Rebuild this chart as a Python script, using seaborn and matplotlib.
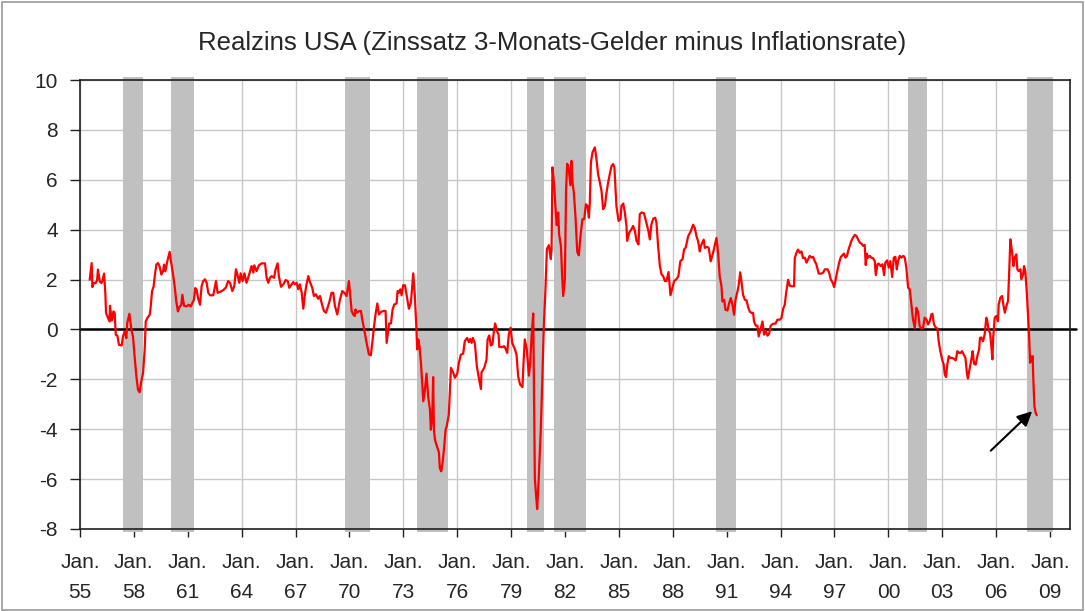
import matplotlib
matplotlib.use("Agg")
import matplotlib.pyplot as plt
from matplotlib.patches import Rectangle
import seaborn as sns
import pandas as pd

# ---------------- data (decimal year, real rate in %) ----------------
years = [
    1955.54, 1955.65, 1955.69, 1955.76, 1955.87, 1955.95, 1956.00, 1956.10, 1956.19, 1956.24,
    1956.34, 1956.41, 1956.45, 1956.56, 1956.65, 1956.67, 1956.76, 1956.82, 1956.86, 1956.93,
    1956.99, 1957.08, 1957.17, 1957.32, 1957.39, 1957.49, 1957.58, 1957.63, 1957.75, 1957.86,
    1957.95, 1958.04, 1958.14, 1958.23, 1958.32, 1958.41, 1958.51, 1958.60, 1958.66, 1958.75,
    1958.88, 1958.93, 1959.01, 1959.10, 1959.16, 1959.25, 1959.34, 1959.43, 1959.53, 1959.62,
    1959.68, 1959.75, 1959.86, 1959.99, 1960.08, 1960.18, 1960.27, 1960.36, 1960.45, 1960.55,
    1960.64, 1960.70, 1960.79, 1960.92, 1961.05, 1961.16, 1961.25, 1961.34, 1961.42, 1961.49,
    1961.57, 1961.68,
    1961.77, 1961.86, 1961.96, 1962.05, 1962.14, 1962.24, 1962.42, 1962.57, 1962.66, 1962.79,
    1962.98, 1963.11, 1963.25, 1963.35, 1963.48, 1963.59, 1963.68, 1963.76, 1963.87, 1963.94,
    1964.05, 1964.15, 1964.27, 1964.42, 1964.55, 1964.65, 1964.70, 1964.83, 1964.96, 1965.11,
    1965.30, 1965.39, 1965.48, 1965.57, 1965.67, 1965.80, 1965.89, 1966.00, 1966.07, 1966.19,
    1966.32, 1966.45, 1966.56, 1966.65, 1966.78, 1966.87, 1966.96, 1967.06, 1967.15, 1967.24,
    1967.34, 1967.43, 1967.52, 1967.61, 1967.71, 1967.80, 1967.93, 1968.02, 1968.13, 1968.26,
    1968.36, 1968.47, 1968.58, 1968.69,
    1968.87, 1969.00, 1969.10, 1969.19, 1969.32, 1969.47, 1969.60, 1969.71, 1969.84, 1969.90,
    1969.97, 1970.04, 1970.12, 1970.21, 1970.29, 1970.34, 1970.41, 1970.54, 1970.64, 1970.71,
    1970.82, 1970.90, 1970.99, 1971.08, 1971.19, 1971.27, 1971.36, 1971.45, 1971.55, 1971.64,
    1971.75, 1971.88, 1972.01, 1972.07, 1972.12, 1972.21, 1972.31, 1972.40, 1972.49, 1972.62,
    1972.68, 1972.75, 1972.83, 1972.90, 1972.99, 1973.09, 1973.22, 1973.31, 1973.42, 1973.55,
    1973.64, 1973.72, 1973.77, 1973.83, 1973.90, 1973.98, 1974.05, 1974.11, 1974.20, 1974.29,
    1974.38, 1974.48, 1974.53, 1974.61, 1974.66, 1974.70, 1974.76, 1974.87, 1974.98, 1975.03,
    1975.11, 1975.18, 1975.26, 1975.35,
    1975.41, 1975.53, 1975.65, 1975.78, 1975.87, 1976.00, 1976.09, 1976.20, 1976.33, 1976.42,
    1976.55, 1976.65, 1976.72, 1976.80, 1976.87, 1976.98, 1977.09, 1977.20, 1977.32, 1977.35,
    1977.50, 1977.63, 1977.69, 1977.78, 1977.87, 1977.96, 1978.04, 1978.11, 1978.21, 1978.30,
    1978.34, 1978.50, 1978.61, 1978.71, 1978.78, 1978.87, 1978.97, 1979.06, 1979.21, 1979.30,
    1979.39, 1979.50, 1979.63, 1979.69, 1979.76, 1979.87, 1979.99, 1980.06, 1980.14, 1980.23,
    1980.32, 1980.38, 1980.45, 1980.54, 1980.65, 1980.73, 1980.82, 1980.91, 1980.99, 1981.10,
    1981.21, 1981.25, 1981.30, 1981.40, 1981.49, 1981.54, 1981.62, 1981.67, 1981.77, 1981.84,
    1981.90, 1981.99, 1982.06, 1982.12, 1982.21,
    1982.30, 1982.36, 1982.42, 1982.49, 1982.58, 1982.68, 1982.77, 1982.86, 1982.97, 1983.07,
    1983.16, 1983.25, 1983.33, 1983.38, 1983.44, 1983.53, 1983.66, 1983.75, 1983.84, 1983.94,
    1984.03, 1984.12, 1984.22, 1984.31, 1984.40, 1984.49, 1984.59, 1984.68, 1984.75, 1984.86,
    1984.98, 1985.09, 1985.14, 1985.24, 1985.33, 1985.42, 1985.46, 1985.57, 1985.70, 1985.79,
    1985.89, 1985.98, 1986.09, 1986.16, 1986.26, 1986.39, 1986.48, 1986.57, 1986.64, 1986.72,
    1986.81, 1986.91, 1987.02, 1987.09, 1987.18, 1987.28, 1987.37, 1987.46, 1987.56, 1987.65,
    1987.76, 1987.87, 1987.98, 1988.07, 1988.20, 1988.31, 1988.42, 1988.54, 1988.63, 1988.72,
    1988.85, 1989.00, 1989.13, 1989.22, 1989.32, 1989.41, 1989.50, 1989.56, 1989.63, 1989.72,
    1989.78, 1989.91, 1990.00, 1990.11, 1990.24, 1990.37, 1990.43, 1990.52, 1990.61, 1990.71,
    1990.76, 1990.86, 1990.93, 1991.04, 1991.13, 1991.23, 1991.32, 1991.41, 1991.49, 1991.60,
    1991.67, 1991.75, 1991.82, 1991.91, 1992.01, 1992.10, 1992.19, 1992.28, 1992.38, 1992.47,
    1992.52, 1992.62, 1992.71, 1992.78, 1992.88, 1992.99, 1993.08, 1993.17, 1993.27, 1993.36,
    1993.45, 1993.58, 1993.71, 1993.82, 1993.95, 1994.05, 1994.14, 1994.23, 1994.32, 1994.42,
    1994.51, 1994.64, 1994.75, 1994.79, 1994.88, 1994.97, 1995.07, 1995.16, 1995.25,
    1995.35, 1995.44, 1995.53, 1995.62, 1995.72, 1995.81, 1995.90, 1995.99, 1996.12, 1996.27,
    1996.37, 1996.46, 1996.61, 1996.70, 1996.79, 1996.90, 1996.98, 1997.05, 1997.14, 1997.26,
    1997.35, 1997.46, 1997.53, 1997.61, 1997.70, 1997.76, 1997.85, 1997.94, 1998.03, 1998.13,
    1998.22, 1998.31, 1998.41, 1998.50, 1998.59, 1998.68, 1998.74, 1998.80, 1998.87, 1998.96,
    1999.05, 1999.15, 1999.24, 1999.30, 1999.39, 1999.46, 1999.57, 1999.67, 1999.76, 1999.83,
    1999.93, 2000.02, 2000.11, 2000.21, 2000.30, 2000.39, 2000.47, 2000.54, 2000.63, 2000.72,
    2000.84, 2000.91, 2001.00, 2001.10, 2001.19, 2001.28, 2001.37, 2001.47, 2001.56, 2001.65,
    2001.74, 2001.84, 2001.93, 2002.02,
    2002.12, 2002.21, 2002.30, 2002.39, 2002.45, 2002.54, 2002.64, 2002.73, 2002.80, 2002.89,
    2002.99, 2003.08, 2003.14, 2003.21, 2003.28, 2003.36, 2003.45, 2003.54, 2003.66, 2003.75,
    2003.84, 2003.93, 2004.03, 2004.10, 2004.19, 2004.29, 2004.38, 2004.43, 2004.53, 2004.62,
    2004.69, 2004.77, 2004.86, 2004.95, 2005.05, 2005.10, 2005.18, 2005.27, 2005.36, 2005.45,
    2005.51, 2005.58, 2005.66, 2005.73, 2005.79, 2005.84, 2005.92, 2006.01, 2006.10, 2006.14,
    2006.23, 2006.33, 2006.40, 2006.48, 2006.57, 2006.66, 2006.72, 2006.79, 2006.88, 2006.96,
    2007.03, 2007.12, 2007.18, 2007.25, 2007.35, 2007.40, 2007.50, 2007.55, 2007.62, 2007.70,
    2007.77, 2007.83, 2007.89, 2007.92, 2008.00, 2008.03, 2008.07, 2008.13, 2008.20, 2008.26,
]

real_rate = [
    1.99, 2.66, 1.70, 1.86, 1.86, 1.97, 2.40, 1.93, 1.86, 1.93,
    2.24, 1.46, 0.66, 0.46, 0.32, 0.95, 0.36, 0.46, 0.72, 0.66,
    -0.21, -0.25, -0.62, -0.64, -0.28, -0.08, -0.35, 0.25, 0.63, -0.01,
    -0.28, -1.08, -1.89, -2.42, -2.52, -2.09, -1.75, -0.82, 0.32, 0.46,
    0.59, 0.86, 1.53, 1.73, 2.13, 2.60, 2.66, 2.53, 2.20, 2.33,
    2.60, 2.33, 2.73, 3.11, 2.66, 2.20, 1.73, 1.12, 0.72, 0.92,
    0.99, 1.39, 0.95, 0.92, 0.99, 0.92, 1.06, 1.19, 1.66, 1.59,
    1.26, 0.99,
    1.74, 1.94, 2.01, 1.87, 1.47, 1.37, 1.37, 1.94, 1.47, 1.50,
    1.58, 1.67, 1.94, 1.87, 1.54, 1.74, 2.41, 2.21, 1.87, 2.25,
    1.94, 2.25, 1.87, 2.21, 2.54, 2.28, 2.57, 2.34, 2.57, 2.65,
    2.65, 2.07, 1.87, 2.07, 2.14, 2.07, 2.41, 2.65, 2.14, 1.71,
    1.81, 1.98, 1.94, 1.67, 1.81, 1.90, 1.81, 1.87, 1.61, 1.81,
    1.47, 0.83, 1.41, 1.81, 2.14, 1.90, 1.67, 1.34, 1.41, 1.23,
    1.34, 1.00, 0.74, 0.67,
    1.07, 1.47, 1.47, 0.94, 0.60, 1.20, 1.54, 1.47, 1.34, 1.61,
    1.94, 1.41, 0.74, 0.60, 0.54, 0.80, 0.67, 0.74, 0.74, 0.40,
    0.00, -0.33, -0.67, -1.00, -1.04, -0.54, 0.07, 0.60, 1.04, 0.60,
    0.70, 0.74, 0.74, -0.54, -0.27, 0.24, 0.24, 0.80, 1.00, 1.04,
    1.54, 1.47, 1.61, 1.37, 1.77, 1.77, 1.20, 0.83, 1.07, 2.25,
    1.34, 0.13, -0.80, -0.40, -0.67, -1.34, -2.14, -2.88, -2.41, -1.77,
    -2.68, -3.21, -4.02, -3.48, -1.91, -4.02, -4.42, -4.69, -4.93, -5.56,
    -5.69, -5.35, -4.82, -4.02,
    -3.89, -3.42, -1.54, -1.74, -1.94, -1.77, -1.34, -1.01, -0.97, -0.47,
    -0.34, -0.51, -0.38, -0.54, -0.34, -0.56, -1.47, -1.94, -2.39, -1.72,
    -1.54, -1.21, -0.40, -0.24, -0.64, -0.60, -0.07, 0.24, -0.07, -0.20,
    -0.70, -0.71, -0.67, -0.80, -0.94, -0.20, 0.07, -0.54, -0.80, -1.01,
    -1.88, -2.21, -2.31, -1.34, -0.40, -0.80, -1.85, -1.34, -0.27, 0.64,
    -5.97, -6.57, -7.20, -5.90, -4.02, -2.14, 0.13, 1.61, 3.22, 3.38,
    2.82, 3.22, 6.50, 5.76, 4.62, 4.18, 4.69, 3.82, 3.35, 2.14,
    1.34, 2.01, 5.63, 6.64, 6.43,
    5.78, 6.76, 5.89, 5.49, 4.55, 3.11, 2.97, 3.75, 4.42, 4.42,
    5.02, 4.95, 4.48, 5.09, 6.69, 7.10, 7.30, 6.83, 6.22, 5.89,
    5.56, 4.82, 4.95, 5.49, 5.89, 6.22, 6.56, 6.63, 6.49, 4.95,
    4.35, 4.42, 4.95, 5.05, 4.69, 4.15, 3.55, 3.88, 4.02, 4.15,
    3.95, 3.55, 3.41, 4.62, 4.69, 4.66, 4.42, 4.15, 3.95, 3.61,
    4.22, 4.44, 4.48, 4.28, 3.35, 2.54, 2.21, 2.14, 1.94, 1.94,
    2.30, 1.37, 1.67, 1.94, 2.01, 2.14, 2.74, 2.81, 3.21, 3.28,
    3.73, 3.94, 4.20, 4.07, 3.73, 3.53, 3.13, 3.33, 3.47, 3.60,
    3.27, 3.31, 3.27, 2.73, 3.07, 3.47, 3.67, 3.07, 2.13, 1.73,
    1.12, 1.19, 0.79, 0.76, 1.03, 1.26, 0.99, 0.59, 1.19, 1.53,
    1.79, 2.29, 1.93, 1.39, 1.19, 1.17, 0.90, 0.72, 0.66, 0.66,
    0.32, 0.15, 0.15, -0.28, -0.01, 0.32, -0.21, -0.04, -0.25, -0.17,
    0.15, 0.23, 0.23, 0.39, 0.39, 0.46, 0.82, 0.99, 1.53, 1.99,
    1.75, 1.73, 1.73, 2.86, 3.07, 3.20, 3.07, 3.13, 2.86,
    2.88, 2.68, 2.81, 2.95, 2.88, 2.91, 2.74, 2.61, 2.24, 2.24,
    2.28, 2.41, 2.41, 2.28, 2.01, 1.87, 1.70, 1.94, 2.28, 2.68,
    2.90, 2.99, 3.04, 2.88, 2.95, 3.15, 3.35, 3.55, 3.68, 3.79,
    3.75, 3.61, 3.48, 3.44, 3.35, 3.39, 2.58, 3.04, 2.88, 2.95,
    2.88, 2.85, 2.74, 2.18, 2.61, 2.64, 2.54, 2.61, 2.18, 2.68,
    2.77, 2.48, 2.74, 2.10, 2.88, 2.91, 2.41, 2.74, 2.95, 2.88,
    2.95, 2.88, 2.48, 1.67, 1.61, 1.00, 0.40, 0.07, 0.87, 0.71,
    0.13, 0.04, 0.07, 0.47,
    0.40, 0.20, 0.33, 0.60, 0.63, 0.20, 0.07, 0.04, -0.47, -0.87,
    -1.20, -1.41, -1.81, -1.91, -1.41, -1.07, -1.14, -1.14, -1.18, -1.24,
    -0.87, -0.94, -0.94, -0.87, -1.00, -1.14, -1.81, -1.97, -1.54, -1.20,
    -0.87, -1.38, -1.41, -1.07, -0.80, -0.33, -0.33, -0.47, -0.20, 0.47,
    0.33, -0.04, -0.13, -0.67, -1.20, -0.27, 0.47, 0.54, 0.33, 1.00,
    1.27, 1.34, 1.00, 0.67, 0.94, 1.14, 2.21, 3.61, 3.15, 2.54,
    2.88, 3.01, 2.41, 2.34, 2.41, 2.01, 2.21, 2.54, 2.34, 1.54,
    0.60, -0.20, -1.34, -1.07, -1.27, -1.07, -2.01, -3.08, -3.35, -3.44,
]

# recession shading (start, end) in decimal years
recession_start = [1957.41, 1960.07, 1969.75, 1973.74, 1979.86, 1981.39, 1990.39, 2001.07, 2007.74]
recession_end = [1958.50, 1961.37, 1971.16, 1975.50, 1980.82, 1983.14, 1991.49, 2002.13, 2009.16]

tick_years = list(range(1955, 2010, 3))
tick_labels = ["Jan.\n%02d" % (y % 100) for y in tick_years]
y_ticks = list(range(-8, 11, 2))

title = "Realzins USA (Zinssatz 3-Monats-Gelder minus Inflationsrate)"

# arrow (tail -> head) in data coordinates
arrow_tail = (2005.70, -4.86)
arrow_head = (2008.0, -3.28)

# ---------------- plot ----------------
sns.set_theme(style="white")
plt.rcParams["font.family"] = ["Liberation Sans", "DejaVu Sans"]
plt.rcParams["axes.unicode_minus"] = False

W, H = 1085, 611
fig = plt.figure(figsize=(W / 100, H / 100), dpi=100)
ax = fig.add_axes([80 / W, 1 - 529 / H, 990 / W, 449 / H])

df = pd.DataFrame({"year": years, "rate": real_rate})

for s, e in zip(recession_start, recession_end):
    ax.axvspan(s, e, ymin=-0.006, ymax=1.006, color="#C0C0C0", lw=0,
               zorder=1, clip_on=False)

ax.axhline(0, xmin=0, xmax=1.006, color="black", lw=1.8, zorder=3, clip_on=False)

sns.lineplot(data=df, x="year", y="rate", color="#FF0000", lw=1.6,
             sort=False, estimator=None, ax=ax, zorder=4)

ax.annotate("", xy=arrow_head, xytext=arrow_tail,
            arrowprops=dict(arrowstyle="-|>", color="black", lw=1.5,
                            mutation_scale=22, shrinkA=0, shrinkB=0),
            zorder=5)

ax.set_xlim(1955, 2010.11)
ax.set_ylim(-8, 10)
ax.set_xticks(tick_years)
ax.set_xticklabels(tick_labels, linespacing=1.75)
ax.set_yticks(y_ticks)
ax.set_xlabel("")
ax.set_ylabel("")

ax.grid(True, color="#C8C8C8", lw=1.0)
ax.set_axisbelow(True)

for side in ["left", "right", "top", "bottom"]:
    ax.spines[side].set_visible(True)
    ax.spines[side].set_color("#202020")
    ax.spines[side].set_linewidth(1.2)
    ax.spines[side].set_zorder(6)

ax.tick_params(axis="x", direction="out", length=6, width=1, color="#202020",
               labelsize=15, pad=11, bottom=True)
ax.tick_params(axis="y", direction="out", length=7, width=1, color="#202020",
               labelsize=15, pad=9, left=True)

fig.text(552 / W, 1 - 43 / H, title, ha="center", va="center", fontsize=18.5)

fig.patches.append(Rectangle((0.002, 0.002), 0.996, 0.995, transform=fig.transFigure,
                             fill=False, edgecolor="#9A9A9A", lw=1.2))

fig.savefig("out.png", dpi=100, facecolor="white")
